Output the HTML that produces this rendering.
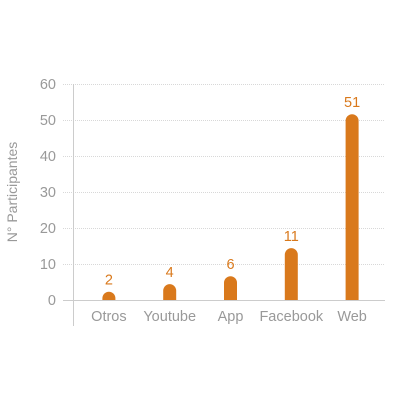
<!DOCTYPE html>
<html><head><meta charset="utf-8"><style>
html,body{margin:0;padding:0;background:#fff;}
svg text{font-family:"Liberation Sans",sans-serif;}
</style></head><body>
<svg id="chart" width="400" height="400"></svg>
<script>
const categories = ["Otros","Youtube","App","Facebook","Web"];
const barValues = [2.3,4.4,6.6,14.4,51.6];
const valueLabels = ["2","4","6","11","51"];
const yTicks = [0,10,20,30,40,50,60];
const svg = document.getElementById('chart');
const NS = 'http://www.w3.org/2000/svg';
const y0 = 300, pxPerUnit = 3.6, x0 = 78.5, step = 60.8, barW = 13;
const yScale = v => y0 - v * pxPerUnit;
const xScale = i => x0 + step * (i + 0.5);
function mk(tag, attrs, txt){const e=document.createElementNS(NS,tag);for(const k in attrs)e.setAttribute(k,attrs[k]);if(txt!==undefined)e.textContent=txt;svg.appendChild(e);return e;}
yTicks.forEach(t=>{
  const y=yScale(t);
  if(t>0){
    const g=mk('line',{x1:63,x2:385,y1:y+0.5,y2:y+0.5,stroke:'#d8d8d8','stroke-dasharray':'1,1'});
    
    
  }
  const l=mk('text',{x:56,y:y+5,'text-anchor':'end','font-size':14.5,fill:'#999'},String(t));
  
  
});
const base=mk('line',{x1:63,x2:385,y1:y0+0.5,y2:y0+0.5,stroke:'#ccc','stroke-width':1});


const ax=mk('line',{x1:73.5,x2:73.5,y1:84,y2:326,stroke:'#ccc','stroke-width':1});


const yt=mk('text',{x:17,y:192,'text-anchor':'middle','font-size':14,fill:'#999',transform:'rotate(-90 17 192)'},'N° Participantes');


categories.forEach((c,i)=>{
  const cx=xScale(i), top=yScale(barValues[i]), r=barW/2;
  const d=`M${cx-r},${y0} L${cx-r},${top+r} A${r},${r} 0 0 1 ${cx+r},${top+r} L${cx+r},${y0} Z`;
  const b=mk('path',{d:d,fill:'#d9791c'});
  
  
  const v=mk('text',{x:cx,y:top-7,'text-anchor':'middle','font-size':14.5,fill:'#d9791c'},valueLabels[i]);
  
  
  const cl=mk('text',{x:cx,y:321,'text-anchor':'middle','font-size':14.5,fill:'#999'},c);
  
  
});
</script>
</body></html>
